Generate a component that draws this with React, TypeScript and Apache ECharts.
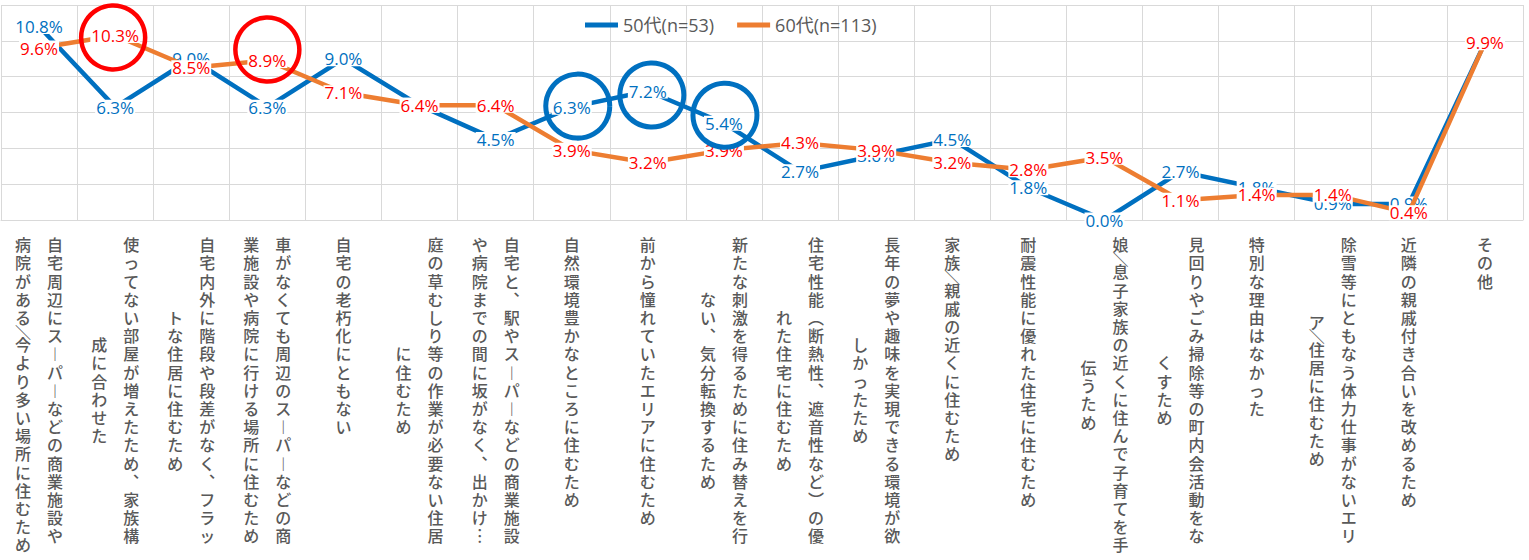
import React, { useEffect, useRef } from "react";
import * as echarts from "echarts";

// Reasons for moving; each entry lists the columns of its vertical label.
// The first column is read first and sits on the right.
const categoryColumns: string[][] = [
  ["自宅周辺にスーパーなどの商業施設や", "病院がある/今より多い場所に住むため"],
  ["使ってない部屋が増えたため、家族構", "成に合わせた"],
  ["自宅内外に階段や段差がなく、フラッ", "トな住居に住むため"],
  ["車がなくても周辺のスーパーなどの商", "業施設や病院に行ける場所に住むため"],
  ["自宅の老朽化にともない"],
  ["庭の草むしり等の作業が必要ない住居", "に住むため"],
  ["自宅と、駅やスーパーなどの商業施設", "や病院までの間に坂がなく、出かけ…"],
  ["自然環境豊かなところに住むため"],
  ["前から憧れていたエリアに住むため"],
  ["新たな刺激を得るために住み替えを行", "ない、気分転換するため"],
  ["住宅性能（断熱性、遮音性など）の優", "れた住宅に住むため"],
  ["長年の夢や趣味を実現できる環境が欲", "しかったため"],
  ["家族/親戚の近くに住むため"],
  ["耐震性能に優れた住宅に住むため"],
  ["娘/息子家族の近くに住んで子育てを手", "伝うため"],
  ["見回りやごみ掃除等の町内会活動をな", "くすため"],
  ["特別な理由はなかった"],
  ["除雪等にともなう体力仕事がないエリ", "ア/住居に住むため"],
  ["近隣の親戚付き合いを改めるため"],
  ["その他"],
];
const categoryNames = categoryColumns.map((cols) => cols.join(""));

const seriesNames = ["50代(n=53)", "60代(n=113)"];
const values50s = [10.8, 6.3, 9.0, 6.3, 9.0, 6.4, 4.5, 6.3, 7.2, 5.4, 2.7, 3.6, 4.5, 1.8, 0.0, 2.7, 1.8, 0.9, 0.9, 9.9];
const values60s = [9.6, 10.3, 8.5, 8.9, 7.1, 6.4, 6.4, 3.9, 3.2, 3.9, 4.3, 3.9, 3.2, 2.8, 3.5, 1.1, 1.4, 1.4, 0.4, 9.9];

// Percent scale
const yMin = 0;
const yMax = 12;
const yInterval = 2;

// Category indices whose points are ringed
const ringed50s = [7, 8, 9];
const ringed60s = [1, 3];

// ---- styling ----
const BLUE = "#0070C0";
const ORANGE = "#ED7D31";
const RED = "#FF0000";
const GRID = "#D9D9D9";
const TEXT = "#595959";
const LATIN_FONT = "'Open Sans', 'Noto Sans CJK JP', sans-serif";
const CJK_FONT = "'Noto Sans CJK JP', sans-serif";

const PITCH = 18.2; // vertical advance of one character
const NARROW_PITCH = 9; // advance of a rotated half-width character
const COL_SHIFT = 32; // padding that moves a column 16px sideways

// pixel nudges of each ring relative to its point
const ringOffsets50s: [number, number][] = [[6, -1], [4, 4], [1, -8]];
const ringOffsets60s: [number, number][] = [[-2, 2], [0, -11]];

// vertical presentation forms used in stacked text
const verticalForms: Record<string, string> = {
  "ー": "︱",
  "、": "︑",
  "（": "︵",
  "）": "︶",
  "/": "＼",
  "…": "︙",
};
const narrowChars = new Set(["/"]);

function columnHeight(text: string): number {
  return Array.from(text).reduce((h, ch) => h + (narrowChars.has(ch) ? NARROW_PITCH : PITCH), 0);
}

function columnLabel(index: number, col: number): string {
  const cols = categoryColumns[index];
  if (!cols || col >= cols.length) return "";
  const style = cols.length > 1 ? (col === 0 ? "r" : "l") : "c";
  const lines = Array.from(cols[col]).map((ch) => {
    const glyph = verticalForms[ch] ?? ch;
    return `{${style}${narrowChars.has(ch) ? "n" : ""}|${glyph}}`;
  });
  if (col > 0) {
    const off = (columnHeight(cols[0]) - columnHeight(cols[col])) / 2;
    if (off > 0.5) lines.unshift(`{sp${index}| }`);
  }
  return lines.join("\n");
}

function buildRich(): Record<string, any> {
  const base = { fontSize: 16, fontFamily: CJK_FONT, fontWeight: 500, color: TEXT };
  const rich: Record<string, any> = {
    c: { ...base, lineHeight: PITCH },
    r: { ...base, lineHeight: PITCH, padding: [0, 0, 0, COL_SHIFT] },
    l: { ...base, lineHeight: PITCH, padding: [0, COL_SHIFT, 0, 0] },
    cn: { ...base, lineHeight: NARROW_PITCH, height: NARROW_PITCH },
    rn: { ...base, lineHeight: NARROW_PITCH, height: NARROW_PITCH, padding: [0, 0, 0, COL_SHIFT] },
    ln: { ...base, lineHeight: NARROW_PITCH, height: NARROW_PITCH, padding: [0, COL_SHIFT, 0, 0] },
  };
  categoryColumns.forEach((cols, i) => {
    if (cols.length > 1) {
      const off = Math.max(1, (columnHeight(cols[0]) - columnHeight(cols[1])) / 2);
      rich[`sp${i}`] = { fontSize: 1, lineHeight: off, height: off };
    }
  });
  return rich;
}

function pointLabel(color: string) {
  return {
    show: true,
    position: "inside",
    formatter: (p: any) => `${Number(p.value).toFixed(1)}%`,
    color,
    fontSize: 17,
    fontFamily: LATIN_FONT,
    backgroundColor: "#FFFFFF",
    lineHeight: 15,
    padding: [0, 1],
  };
}

function ringSeries(values: number[], indices: number[], offsets: [number, number][], color: string, width: number) {
  return {
    type: "scatter",
    xAxisIndex: 0,
    silent: true,
    z: 10,
    symbol: "circle",
    symbolSize: 64,
    itemStyle: { color: "rgba(0,0,0,0)", borderColor: color, borderWidth: width, opacity: 1 },
    emphasis: { disabled: true },
    data: indices.map((i, k) => ({ value: [i, values[i]], symbolOffset: offsets[k] })),
  };
}

export default function App() {
  const ref = useRef<HTMLDivElement>(null);

  useEffect(() => {
    if (!ref.current) return;
    const chart = echarts.init(ref.current, undefined, { renderer: "svg" });
    const rich = buildRich();

    chart.setOption({
      animation: false,
      backgroundColor: "#FFFFFF",
      grid: { left: 1, right: 6, top: 5, bottom: 340, containLabel: false },
      legend: {
        data: seriesNames,
        left: 580,
        top: 11,
        icon: "rect",
        itemWidth: 33,
        itemHeight: 5,
        itemGap: 23,
        textStyle: { color: TEXT, fontSize: 18, fontFamily: LATIN_FONT },
      },
      xAxis: [
        {
          type: "category",
          data: categoryNames,
          boundaryGap: true,
          position: "bottom",
          axisLine: { show: true, lineStyle: { color: GRID, width: 1 } },
          axisTick: { show: false },
          splitLine: { show: true, interval: 0, lineStyle: { color: GRID, width: 1 } },
          axisLabel: {
            interval: 0,
            margin: 15,
            formatter: (_v: string, i: number) => columnLabel(i, 0),
            rich,
          },
        },
        {
          type: "category",
          data: categoryNames,
          boundaryGap: true,
          position: "bottom",
          axisLine: { show: false },
          axisTick: { show: false },
          splitLine: { show: false },
          axisLabel: {
            interval: 0,
            margin: 15,
            formatter: (_v: string, i: number) => columnLabel(i, 1),
            rich,
          },
        },
      ],
      yAxis: {
        type: "value",
        min: yMin,
        max: yMax,
        interval: yInterval,
        axisLine: { show: false },
        axisTick: { show: false },
        axisLabel: { show: false },
        splitLine: { show: true, lineStyle: { color: GRID, width: 1 } },
      },
      series: [
        {
          name: seriesNames[0],
          type: "line",
          xAxisIndex: 0,
          data: values50s,
          color: BLUE,
          symbol: "circle",
          symbolSize: 2,
          lineStyle: { width: 4.5, color: BLUE, cap: "round", join: "round" },
          itemStyle: { color: BLUE },
          label: pointLabel(BLUE),
          emphasis: { disabled: true },
          z: 2,
        },
        {
          name: seriesNames[1],
          type: "line",
          xAxisIndex: 0,
          data: values60s,
          color: ORANGE,
          symbol: "circle",
          symbolSize: 2,
          lineStyle: { width: 4.5, color: ORANGE, cap: "round", join: "round" },
          itemStyle: { color: ORANGE },
          label: pointLabel(RED),
          emphasis: { disabled: true },
          z: 3,
        },
        ringSeries(values60s, ringed60s, ringOffsets60s, RED, 4.5),
        ringSeries(values50s, ringed50s, ringOffsets50s, BLUE, 5),
      ],
    });

    return () => chart.dispose();
  }, []);

  return (
    <div
      ref={ref}
      style={{ position: "fixed", left: 0, top: 0, width: 1529, height: 560, background: "#fff" }}
    />
  );
}
